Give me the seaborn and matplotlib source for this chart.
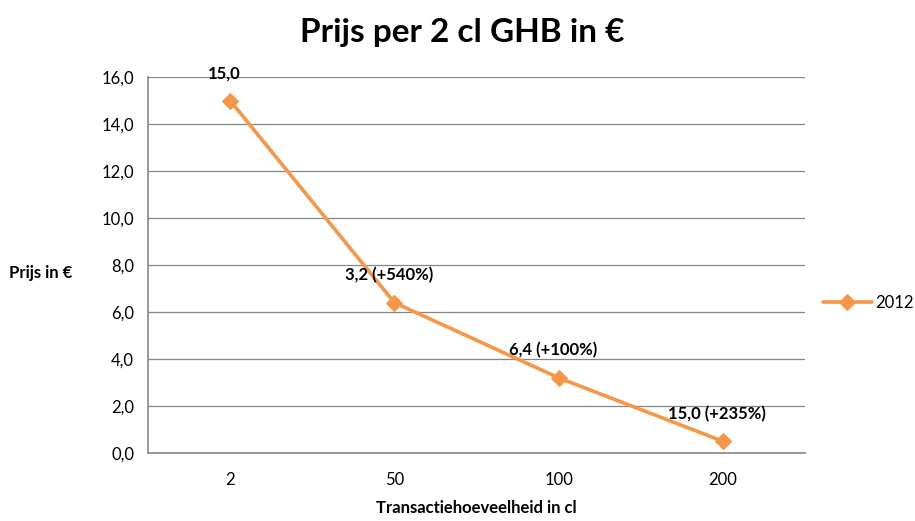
import numpy as np
import pandas as pd
import matplotlib
matplotlib.use('Agg')
import matplotlib.pyplot as plt
import seaborn as sns

# data
hoeveelheid = ['2', '50', '100', '200']
prijs = [15.0, 6.4, 3.2, 0.5]
labels = ['15,0', '3,2 (+540%)', '6,4 (+100%)', '15,0 (+235%)']
yticks = [0, 2, 4, 6, 8, 10, 12, 14, 16]

df = pd.DataFrame({'pos': range(len(hoeveelheid)), 'prijs': prijs})

sns.set_style('white')
plt.rcParams['font.family'] = ['Lato', 'DejaVu Sans']
plt.rcParams['text.color'] = 'black'
plt.rcParams['xtick.color'] = 'black'
plt.rcParams['ytick.color'] = 'black'
plt.rcParams['axes.labelcolor'] = 'black'

oranje = '#F79646'
fig = plt.figure(figsize=(9.15, 5.21), dpi=100)
ax = fig.add_axes([0.1617, 0.1305, 0.7181, 0.7217])

sns.lineplot(data=df, x='pos', y='prijs', ax=ax, color=oranje, linewidth=2.6,
             marker='D', markersize=8, markeredgecolor=oranje, label='2012')

for i, (v, t) in enumerate(zip(prijs, labels)):
    ax.annotate(t, (i, v), xytext=(-4, 14), textcoords='offset points',
                ha='center', va='bottom', fontsize=12, fontweight='bold')

ax.set_xlim(-0.5, 3.5)
ax.set_ylim(0, 16)
ax.set_xticks(range(len(hoeveelheid)))
ax.set_xticklabels(hoeveelheid, fontsize=12)
ax.set_yticks(yticks)
ax.set_yticklabels([f'{y:.1f}'.replace('.', ',') for y in yticks], fontsize=12)
ax.tick_params(axis='x', length=0, pad=14)
ax.tick_params(axis='y', length=4, color='#868686', pad=6)
ax.grid(axis='y', color='#868686', linewidth=0.9)
ax.set_axisbelow(True)
for s in ['top', 'right']:
    ax.spines[s].set_visible(False)
for s in ['left', 'bottom']:
    ax.spines[s].set_color('#868686')
    ax.spines[s].set_linewidth(1.2)

ax.set_xlabel('Transactiehoeveelheid in cl', fontsize=12, fontweight='bold', labelpad=8)
ax.set_ylabel('Prijs in €', fontsize=12, fontweight='bold', rotation=0,
              ha='center', va='center')
ax.yaxis.set_label_coords(-0.163, 0.48)

fig.suptitle('Prijs per 2 cl GHB in €', fontsize=24, fontweight='bold', x=0.505, y=0.965)

leg = ax.legend(loc='center left', bbox_to_anchor=(1.005, 0.4), frameon=False,
                fontsize=12, handlelength=2.9, handletextpad=0.2)

fig.savefig('out.png', dpi=100)
